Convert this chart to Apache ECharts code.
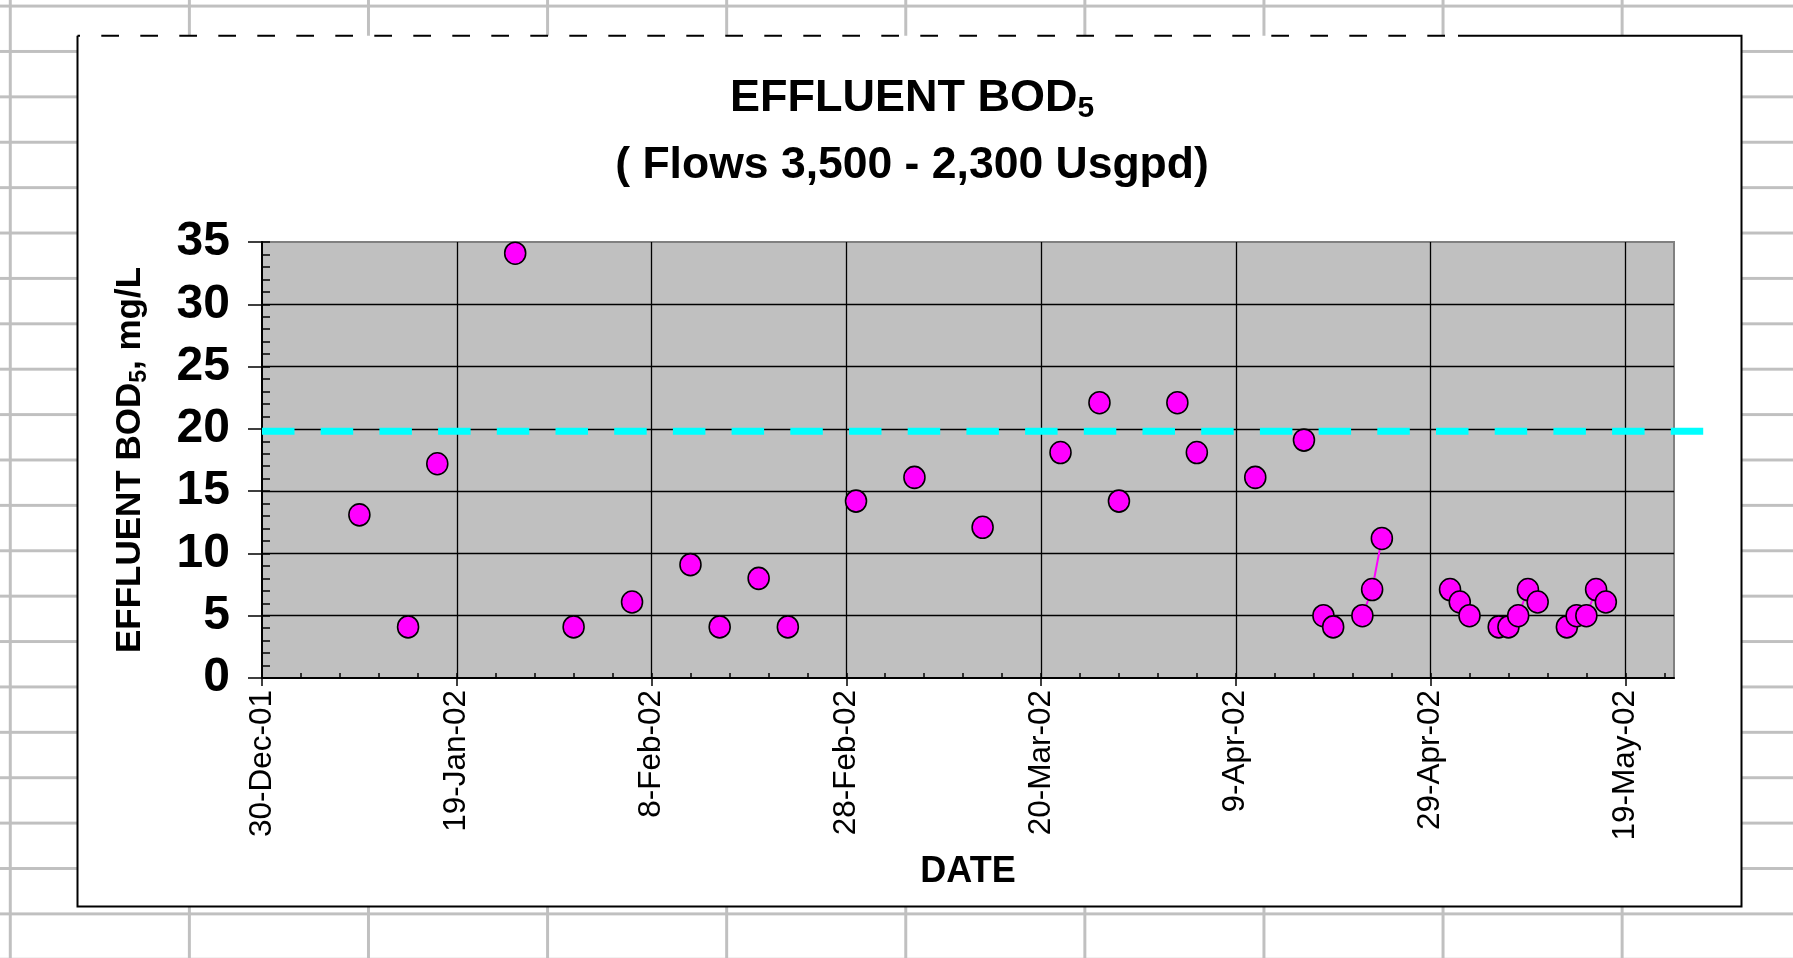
<!DOCTYPE html>
<html>
<head>
<meta charset="utf-8">
<title>Effluent BOD5</title>
<script src="https://cdn.jsdelivr.net/npm/echarts@6/dist/echarts.min.js"></script>
<style>
  html, body { margin: 0; padding: 0; }
  body {
    width: 1793px;
    height: 958px;
    overflow: hidden;
    background-color: #fff;
    /* spreadsheet cells behind the chart */
    background-image:
      linear-gradient(to right, #c0c0c0 3px, transparent 3px),
      linear-gradient(to bottom, #c0c0c0 3px, transparent 3px);
    background-size: 179.1px 100%, 100% 45.4px;
    background-position: 8.8px 0, 0 4.6px;
  }
  #chart { width: 1793px; height: 958px; }
</style>
</head>
<body>
<div id="chart"></div>
<script>
  // sample dates and effluent BOD5 results, mg/L
  var sampleDates = [
    '2002-01-09', '2002-01-14', '2002-01-17', '2002-01-25', '2002-01-31',
    '2002-02-06', '2002-02-12', '2002-02-15', '2002-02-19', '2002-02-22',
    '2002-03-01', '2002-03-07', '2002-03-14', '2002-03-22', '2002-03-26',
    '2002-03-28', '2002-04-03', '2002-04-05', '2002-04-11', '2002-04-16',
    '2002-04-18', '2002-04-19', '2002-04-22', '2002-04-23', '2002-04-24',
    '2002-05-01', '2002-05-02', '2002-05-03', '2002-05-06', '2002-05-07',
    '2002-05-08', '2002-05-09', '2002-05-10', '2002-05-13', '2002-05-14',
    '2002-05-15', '2002-05-16', '2002-05-17'
  ];
  var bod5 = [
    13.1, 4.1, 17.2, 34.1, 4.1,
    6.1, 9.1, 4.1, 8, 4.1,
    14.2, 16.1, 12.1, 18.1, 22.1,
    14.2, 22.1, 18.1, 16.1, 19.1,
    5, 4.1, 5, 7.1, 11.2,
    7.1, 6.1, 5, 4.1, 4.1,
    5, 7.1, 6.1, 4.1, 5,
    5, 7.1, 6.1
  ];
  // permit limit line (runs a little past the plot, as in the original)
  var limitValue = 19.8;
  var limitDates = ['2001-12-30', '2002-05-27'];

  // axes
  var axisStart = '2001-12-30';
  var axisEnd = '2002-05-24';
  var dayStep = 20;
  var dayMinorStep = 4;
  var yMin = 0;
  var yMax = 35;
  var yStep = 5;
  var months = ['Jan', 'Feb', 'Mar', 'Apr', 'May', 'Jun', 'Jul', 'Aug', 'Sep', 'Oct', 'Nov', 'Dec'];

  var FONT = '"Liberation Sans", Arial, sans-serif';
  var DAY = 86400000;

  function dayNo(s) {
    return (Date.parse(s + 'T00:00:00Z') - Date.parse(axisStart + 'T00:00:00Z')) / DAY;
  }
  function dayLabel(v) {
    var d = new Date(Date.parse(axisStart + 'T00:00:00Z') + v * DAY);
    return d.getUTCDate() + '-' + months[d.getUTCMonth()] + '-' + String(d.getUTCFullYear()).slice(2);
  }

  var xMax = dayNo(axisEnd);
  var limitMax = dayNo(limitDates[1]);
  var majorTicks = [];
  for (var t = 0; t <= xMax; t += dayStep) majorTicks.push(t);
  var minorTicks = [];
  for (var m = 0; m <= xMax; m += dayMinorStep) minorTicks.push(m);

  // line only joins samples taken on consecutive days
  var bodData = [];
  for (var i = 0; i < sampleDates.length; i++) {
    var x = dayNo(sampleDates[i]);
    if (i > 0 && x - dayNo(sampleDates[i - 1]) > 1) bodData.push([x - 0.5, '-']);
    bodData.push([x, bod5[i]]);
  }
  var limitData = limitDates.map(function (d) { return [dayNo(d), limitValue]; });

  var PLOT_LEFT = 262;
  var PX_PER_DAY = (1793 - 119 - PLOT_LEFT) / xMax;

  var myChart = echarts.init(document.getElementById('chart'));

  var hiddenAxis = {
    type: 'value',
    show: false,
    splitLine: { show: false }
  };

  var option = {
    animation: false,
    backgroundColor: 'transparent',
    textStyle: { fontFamily: FONT },
    title: [
      {
        text: '{a|EFFLUENT BOD}{s|5}',
        left: 912,
        top: 74,
        textAlign: 'center',
        padding: 0,
        textStyle: {
          rich: {
            a: { fontFamily: FONT, fontSize: 45, fontWeight: 'bold', color: '#000', lineHeight: 50 },
            s: { fontFamily: FONT, fontSize: 30, fontWeight: 'bold', color: '#000', lineHeight: 30, verticalAlign: 'bottom' }
          }
        }
      },
      {
        text: '( Flows 3,500 - 2,300 Usgpd)',
        left: 912,
        top: 141,
        textAlign: 'center',
        padding: 0,
        textStyle: { fontFamily: FONT, fontSize: 44.5, fontWeight: 'bold', color: '#000', lineHeight: 50 }
      }
    ],
    graphic: [
      // chart area frame
      {
        type: 'rect', z: -10,
        shape: { x: 77.5, y: 35.7, width: 1664, height: 870.8 },
        style: { fill: '#fff', stroke: null }
      },
      {
        type: 'polyline',
        shape: { points: [[1458, 35.7], [1741.5, 35.7], [1741.5, 906.5], [77.5, 906.5], [77.5, 35.7]] },
        style: { stroke: '#000', lineWidth: 2, fill: null }
      },
      {
        type: 'line',
        shape: { x1: 77.5, y1: 35.7, x2: 1450, y2: 35.7 },
        style: { stroke: '#000', lineWidth: 2, lineDash: [17.7, 21.3], lineDashOffset: 15.2 }
      }
    ],
    grid: [
      {
        left: PLOT_LEFT,
        right: 119,
        top: 242,
        bottom: 280,
        show: true,
        backgroundColor: '#C0C0C0',
        borderColor: '#808080',
        borderWidth: 2
      },
      {
        // same scale, wider: the limit line overhangs the plot on the right
        left: PLOT_LEFT,
        right: 1793 - PLOT_LEFT - limitMax * PX_PER_DAY,
        top: 242,
        bottom: 280,
        show: false
      }
    ],
    xAxis: [
      {
        type: 'value',
        min: 0,
        max: xMax,
        interval: dayStep,
        axisLine: { lineStyle: { color: '#000', width: 2 } },
        axisTick: { show: true, length: 8, customValues: majorTicks, lineStyle: { color: '#000', width: 1.5 } },
        axisLabel: {
          rotate: 90,
          margin: 12,
          fontSize: 31.5,
          fontFamily: FONT,
          color: '#000',
          customValues: majorTicks,
          formatter: dayLabel
        },
        splitLine: { show: true, showMinLine: false, lineStyle: { color: '#000', width: 1.3 } },
        name: 'DATE',
        nameLocation: 'middle',
        nameGap: 176,
        nameTextStyle: { fontFamily: FONT, fontSize: 36, fontWeight: 'bold', color: '#000' }
      },
      {
        // minor ticks every 4 days, drawn inside
        type: 'value',
        position: 'bottom',
        min: 0,
        max: xMax,
        interval: dayMinorStep,
        axisLine: { show: false },
        axisLabel: { show: false },
        splitLine: { show: false },
        axisTick: { show: true, inside: true, length: 5, customValues: minorTicks, lineStyle: { color: '#000', width: 1.5 } }
      },
      Object.assign({ gridIndex: 1, min: 0, max: limitMax }, hiddenAxis)
    ],
    yAxis: [
      {
        type: 'value',
        min: yMin,
        max: yMax,
        interval: yStep,
        axisLine: { show: true, lineStyle: { color: '#000', width: 2 } },
        axisTick: { show: true, length: 14, lineStyle: { color: '#000', width: 1.5 } },
        axisLabel: { margin: 32, fontSize: 48, fontWeight: 'bold', fontFamily: FONT, color: '#000' },
        splitLine: { show: true, showMinLine: false, showMaxLine: false, lineStyle: { color: '#000', width: 1.3 } },
        name: '{a|EFFLUENT BOD}{s|5}{a|, mg/L}',
        nameLocation: 'middle',
        nameGap: 111,
        nameTextStyle: {
          rich: {
            a: { fontFamily: FONT, fontSize: 35, fontWeight: 'bold', color: '#000', lineHeight: 42 },
            s: { fontFamily: FONT, fontSize: 23, fontWeight: 'bold', color: '#000', lineHeight: 23, verticalAlign: 'bottom' }
          }
        }
      },
      {
        // 1 mg/L minor ticks, drawn inside
        type: 'value',
        position: 'left',
        min: yMin,
        max: yMax,
        interval: 1,
        axisLine: { show: false },
        axisLabel: { show: false },
        splitLine: { show: false },
        axisTick: { show: true, inside: true, length: 8, lineStyle: { color: '#000', width: 1.5 } }
      },
      Object.assign({ gridIndex: 1, min: yMin, max: yMax }, hiddenAxis)
    ],
    series: [
      {
        name: 'Limit',
        type: 'line',
        xAxisIndex: 2,
        yAxisIndex: 2,
        data: limitData,
        symbol: 'none',
        silent: true,
        lineStyle: { color: '#00FFFF', width: 7, type: [32.5, 26.2] }
      },
      {
        name: 'BOD5',
        type: 'line',
        xAxisIndex: 0,
        yAxisIndex: 0,
        data: bodData,
        connectNulls: false,
        symbol: 'circle',
        symbolSize: [21, 22],
        itemStyle: { color: '#FF00FF', borderColor: '#000', borderWidth: 1.6 },
        lineStyle: { color: '#FF00FF', width: 2 }
      }
    ]
  };
  myChart.setOption(option);
</script>
</body>
</html>
